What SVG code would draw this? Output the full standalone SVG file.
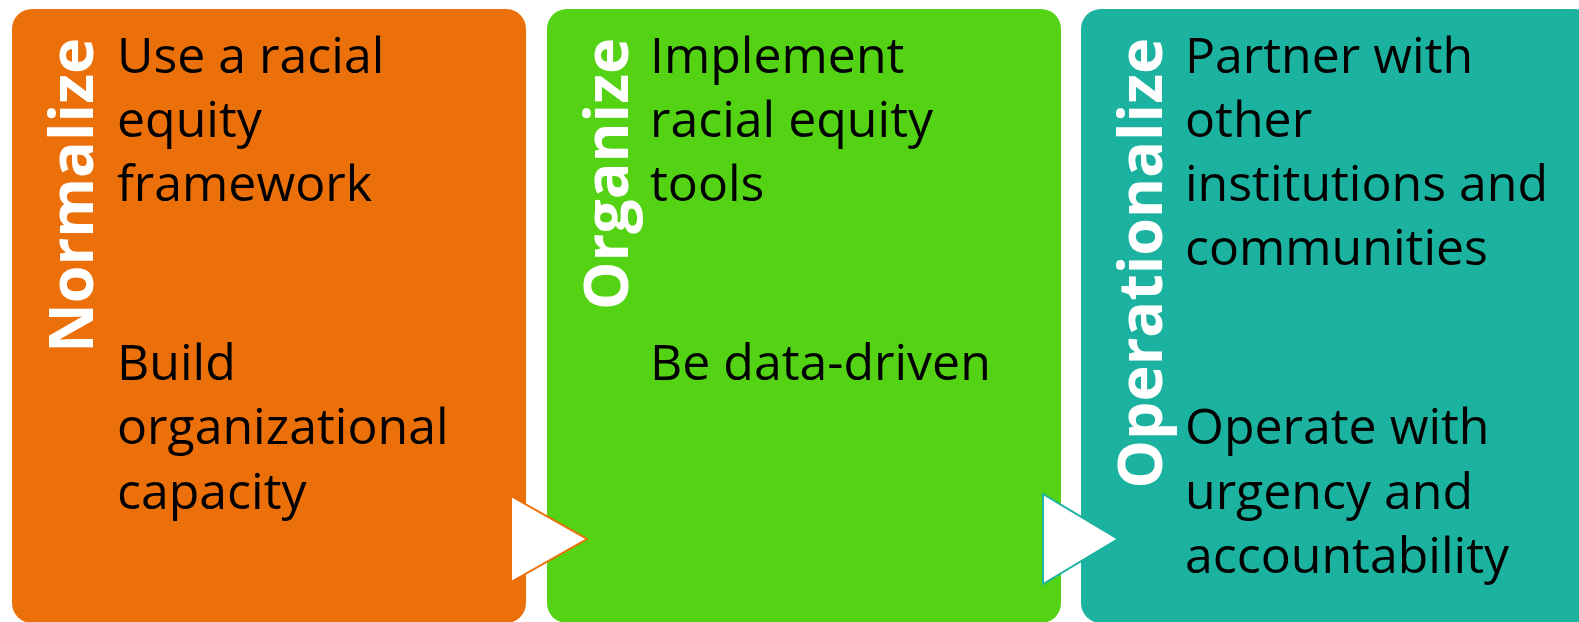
<svg xmlns="http://www.w3.org/2000/svg" width="1579" height="622" viewBox="0 0 1579 622">
<style>
.body{font-family:"Open Sans","Liberation Sans",sans-serif;font-size:50px;fill:#000}
.title{font-family:"Open Sans","Liberation Sans",sans-serif;font-size:61px;font-weight:700;fill:#fff}
.arrow{fill:#fff;stroke-width:2;stroke-linejoin:miter}
</style>
<rect width="1579" height="622" fill="#fff"/>
<g id="normalize">
<rect x="12" y="9" width="514" height="614" rx="20" ry="20" fill="#EC7009"/>
<text class="title" transform="translate(93,38) rotate(-90)" text-anchor="end">Normalize</text>
<text class="body" x="117"><tspan x="117" y="72.5">Use a racial</tspan><tspan x="117" y="136.8">equity</tspan><tspan x="117" y="201.1">framework</tspan><tspan x="117" y="380">Build</tspan><tspan x="117" y="444.3">organizational</tspan><tspan x="117" y="508.6">capacity</tspan></text>
</g>
<g id="organize">
<rect x="547" y="9" width="514" height="614" rx="20" ry="20" fill="#53D314"/>
<text class="title" transform="translate(628,38) rotate(-90)" text-anchor="end">Organize</text>
<text class="body"><tspan x="650" y="72.5">Implement</tspan><tspan x="650" y="136.8">racial equity</tspan><tspan x="650" y="201.1">tools</tspan><tspan x="650" y="380">Be data-driven</tspan></text>
</g>
<g id="operationalize">
<rect x="1081" y="9" width="514" height="614" rx="20" ry="20" fill="#1BB3A0"/>
<text class="title" transform="translate(1162,38) rotate(-90)" text-anchor="end">Operationalize</text>
<text class="body"><tspan x="1185" y="72.5">Partner with</tspan><tspan x="1185" y="136.8">other</tspan><tspan x="1185" y="201.1">institutions and</tspan><tspan x="1185" y="265.4">communities</tspan><tspan x="1185" y="444.3">Operate with</tspan><tspan x="1185" y="508.6">urgency and</tspan><tspan x="1185" y="572.9">accountability</tspan></text>
</g>
<g id="connectors">
<polygon class="arrow" stroke="#EC7009" points="511,496 587,539 511,582"/>
<polygon class="arrow" stroke="#1BB3A0" points="1043,494 1118,539 1043,584"/>
</g>
</svg>
